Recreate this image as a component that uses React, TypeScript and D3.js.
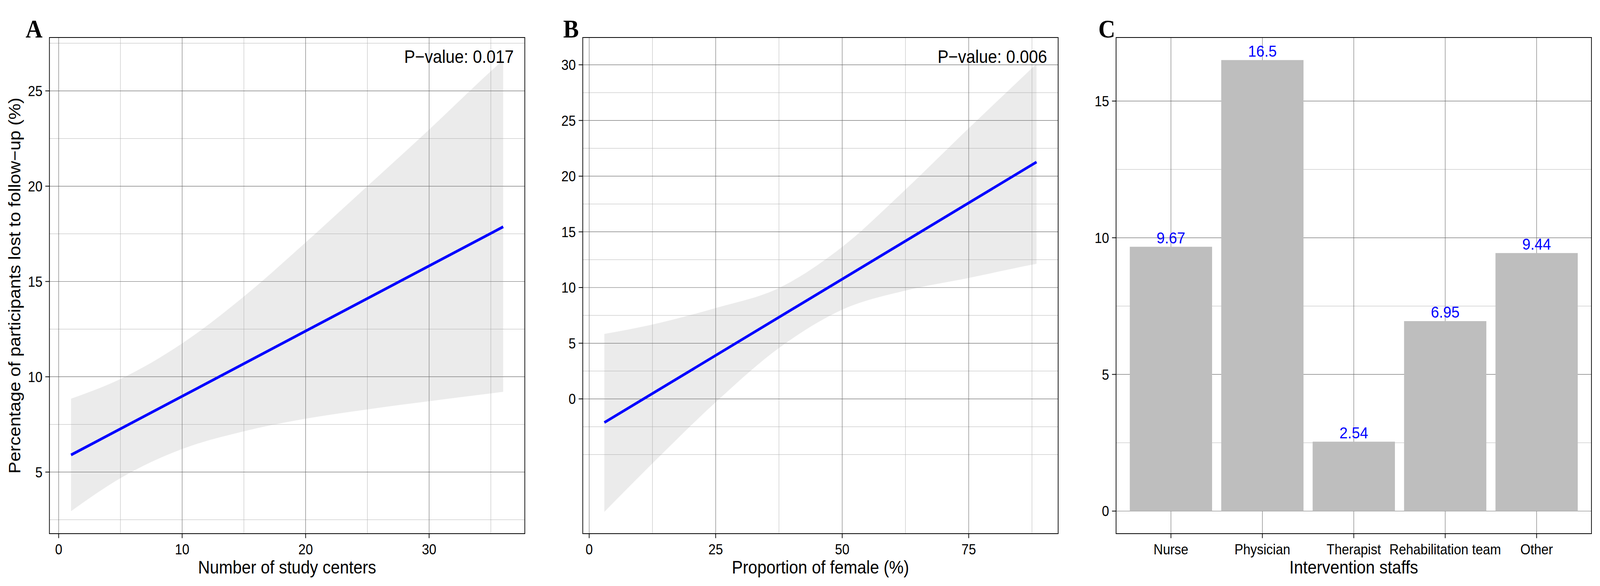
import React from 'react';
import * as d3 from 'd3';

// panel A: number of study centers vs lost to follow-up
const centersX = [1, 5, 10, 15, 20, 25, 30, 35, 36];
const centersUpper = [8.85, 9.88, 11.75, 14.21, 17.05, 20.0, 22.97, 26.03, 26.62];
const centersLower = [2.95, 4.68, 6.21, 7.14, 7.8, 8.29, 8.72, 9.13, 9.21];
const centersFitX = [1, 36];
const centersFitY = [5.9, 17.87];
const centersTicksX = [0, 10, 20, 30];
const centersTicksY = [5, 10, 15, 20, 25];

// panel B: proportion of female
const femaleX = [3, 12.5, 25, 37.5, 50, 62.5, 75, 87.5, 88.4];
const femaleUpper = [5.83, 6.68, 8.16, 9.96, 13.65, 18.8, 24.3, 29.7, 30.09];
const femaleLower = [-10.14, -5.79, -0.3, 4.57, 8.01, 9.73, 10.86, 12.05, 12.13];
const femaleFitX = [3, 88.4];
const femaleFitY = [-2.12, 21.27];
const femaleTicksX = [0, 25, 50, 75];
const femaleTicksY = [0, 5, 10, 15, 20, 25, 30];

// panel C: intervention staffs
const staffs = ['Nurse', 'Physician', 'Therapist', 'Rehabilitation team', 'Other'];
const staffValues = [9.67, 16.5, 2.54, 6.95, 9.44];
const staffLabels = ['9.67', '16.5', '2.54', '6.95', '9.44'];
const staffTicksY = [0, 5, 10, 15];

const W = 4500;
const H = 1500;
const PANEL_W = 1500;
const L = 139;
const R = 1476;
const T = 96;
const B = 1366;
const TICK = 11.5;
const SANS = '"Liberation Sans", Arial, Helvetica, sans-serif';
const SERIF = '"Liberation Serif", "Times New Roman", serif';

const expand = (lo: number, hi: number, mult = 0.05) => {
  const pad = (hi - lo) * mult;
  return [lo - pad, hi + pad];
};

// ggplot-like minor breaks: midpoints plus one break beyond each end
const minorBreaks = (ticks: number[], domain: number[]) => {
  const step = ticks[1] - ticks[0];
  const ext = [ticks[0] - step, ...ticks, ticks[ticks.length - 1] + step];
  const out: number[] = [];
  ext.forEach((t, i) => {
    if (!ticks.includes(t)) out.push(t);
    if (i < ext.length - 1) out.push(t + step / 2);
  });
  return out.filter((v) => v >= domain[0] && v <= domain[1]);
};

const MAJOR = { stroke: '#6a6a6a', strokeWidth: 1.2 };
const MINOR = { stroke: '#b4b4b4', strokeWidth: 1 };

function Frame({ letter, letterX, xTitle, yTitle }: any) {
  return (
    <g>
      <rect x={L} y={T} width={R - L} height={B - T} fill="none" stroke="#000" strokeWidth={2} />
      <text x={letterX} y={T} fontFamily={SERIF} fontWeight="bold" fontSize={66}>{letter}</text>
      <text x={(L + R) / 2} y={1468} textAnchor="middle" fontFamily={SANS} fontSize={46}>{xTitle}</text>
      {yTitle && (
        <text transform={`translate(57,${(T + B) / 2}) rotate(-90)`} textAnchor="middle" fontFamily={SANS} fontSize={46}>{yTitle}</text>
      )}
    </g>
  );
}

function YAxis({ y, ticks }: any) {
  return (
    <g>
      {ticks.map((t: number) => (
        <g key={t}>
          <line x1={L - TICK} x2={L} y1={y(t)} y2={y(t)} stroke="#000" strokeWidth={2} />
          <text x={L - TICK - 8} y={y(t)} dy="0.36em" textAnchor="end" fontFamily={SANS} fontSize={36.7}>{t}</text>
        </g>
      ))}
    </g>
  );
}

function RegressionPanel(props: any) {
  const { offset, letter, letterX, xDomain, yDomain, xTicks, yTicks, bandX, upper, lower, fitX, fitY, pText, xTitle, yTitle } = props;
  const x = d3.scaleLinear().domain(xDomain).range([L, R]);
  const y = d3.scaleLinear().domain(yDomain).range([B, T]);
  const xMinor = minorBreaks(xTicks, xDomain);
  const yMinor = minorBreaks(yTicks, yDomain);
  const band = d3
    .area<number>()
    .x((d) => x(d))
    .y0((_, i) => y(lower[i]))
    .y1((_, i) => y(upper[i]))
    .curve(d3.curveMonotoneX);
  const fit = d3
    .line<number>()
    .x((d) => x(d))
    .y((_, i) => y(fitY[i]));
  return (
    <g transform={`translate(${offset},0)`}>
      <rect x={L} y={T} width={R - L} height={B - T} fill="#fff" />
      {xMinor.map((v) => <line key={'xm' + v} x1={x(v)} x2={x(v)} y1={T} y2={B} {...MINOR} />)}
      {yMinor.map((v) => <line key={'ym' + v} x1={L} x2={R} y1={y(v)} y2={y(v)} {...MINOR} />)}
      {xTicks.map((v: number) => <line key={'xM' + v} x1={x(v)} x2={x(v)} y1={T} y2={B} {...MAJOR} />)}
      {yTicks.map((v: number) => <line key={'yM' + v} x1={L} x2={R} y1={y(v)} y2={y(v)} {...MAJOR} />)}
      <path d={band(bandX) || ''} fill="#999999" fillOpacity={0.2} />
      <path d={fit(fitX) || ''} fill="none" stroke="#0000ff" strokeWidth={7} />
      <text x={1445} y={161} textAnchor="end" fontFamily={SANS} fontSize={46}>{pText}</text>
      {xTicks.map((v: number) => (
        <g key={'xt' + v}>
          <line x1={x(v)} x2={x(v)} y1={B} y2={B + TICK} stroke="#000" strokeWidth={2} />
          <text x={x(v)} y={1419} textAnchor="middle" fontFamily={SANS} fontSize={36.7}>{v}</text>
        </g>
      ))}
      <YAxis y={y} ticks={yTicks} />
      <Frame letter={letter} letterX={letterX} xTitle={xTitle} yTitle={yTitle} />
    </g>
  );
}

function BarPanel({ offset }: any) {
  const x = d3.scalePoint<string>().domain(staffs).range([L, R]).padding(0.6);
  const yDomain = expand(0, d3.max(staffValues) as number);
  const y = d3.scaleLinear().domain(yDomain).range([B, T]);
  const bw = x.step() * 0.9;
  const yMinor = minorBreaks(staffTicksY, yDomain);
  return (
    <g transform={`translate(${offset},0)`}>
      <rect x={L} y={T} width={R - L} height={B - T} fill="#fff" />
      {yMinor.map((v) => <line key={'ym' + v} x1={L} x2={R} y1={y(v)} y2={y(v)} {...MINOR} />)}
      {staffTicksY.map((v) => <line key={'yM' + v} x1={L} x2={R} y1={y(v)} y2={y(v)} {...MAJOR} />)}
      {staffs.map((s) => <line key={'xM' + s} x1={x(s)} x2={x(s)} y1={T} y2={B} {...MAJOR} />)}
      {staffs.map((s, i) => (
        <rect key={'b' + s} x={(x(s) as number) - bw / 2} y={y(staffValues[i])} width={bw} height={y(0) - y(staffValues[i])} fill="#bebebe" />
      ))}
      {staffs.map((s, i) => (
        <text key={'l' + s} x={x(s)} y={y(staffValues[i]) - 9} textAnchor="middle" fontFamily={SANS} fontSize={41.5} fill="#0000ff">{staffLabels[i]}</text>
      ))}
      {staffs.map((s) => (
        <g key={'xt' + s}>
          <line x1={x(s)} x2={x(s)} y1={B} y2={B + TICK} stroke="#000" strokeWidth={2} />
          <text x={x(s)} y={1419} textAnchor="middle" fontFamily={SANS} fontSize={36.7}>{s}</text>
        </g>
      ))}
      <YAxis y={y} ticks={staffTicksY} />
      <Frame letter="C" letterX={89} xTitle="Intervention staffs" />
    </g>
  );
}

export default function App() {
  return (
    <svg
      viewBox={`0 0 ${W} ${H}`}
      preserveAspectRatio="none"
      style={{ position: 'absolute', left: 0, top: 0, width: '100vw', height: '100vh', display: 'block', background: '#fff' }}
    >
      <rect width={W} height={H} fill="#fff" />
      <RegressionPanel
        offset={0}
        letter="A"
        letterX={72}
        xDomain={expand(1, 36)}
        yDomain={[1.77, 27.8]}
        xTicks={centersTicksX}
        yTicks={centersTicksY}
        bandX={centersX}
        upper={centersUpper}
        lower={centersLower}
        fitX={centersFitX}
        fitY={centersFitY}
        pText="P−value: 0.017"
        xTitle="Number of study centers"
        yTitle="Percentage of participants lost to follow−up (%)"
      />
      <RegressionPanel
        offset={PANEL_W}
        letter="B"
        letterX={84}
        xDomain={expand(3, 88.4)}
        yDomain={[-12.1, 32.45]}
        xTicks={femaleTicksX}
        yTicks={femaleTicksY}
        bandX={femaleX}
        upper={femaleUpper}
        lower={femaleLower}
        fitX={femaleFitX}
        fitY={femaleFitY}
        pText="P−value: 0.006"
        xTitle="Proportion of female (%)"
      />
      <BarPanel offset={PANEL_W * 2} />
    </svg>
  );
}
